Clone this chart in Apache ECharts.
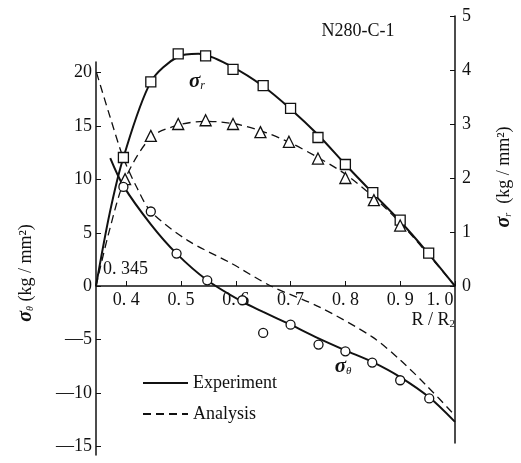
<!DOCTYPE html>
<html>
<head>
<meta charset="utf-8">
<script src="https://cdn.jsdelivr.net/npm/echarts@6/dist/echarts.min.js"></script>
<style>html,body{margin:0;padding:0;background:#fff}#c{width:521px;height:463px}</style>
</head>
<body>
<div id="c"></div>
<script>
// ---- data ----
const xTicks = [0.4, 0.5, 0.6, 0.7, 0.8, 0.9, 1.0];
const thetaTicks = [-15, -10, -5, 0, 5, 10, 15, 20];
const rTicks = [0, 1, 2, 3, 4, 5];

// sigma_r experiment (squares)
const rExpX = [0.395, 0.445, 0.495, 0.545, 0.595, 0.65, 0.70, 0.75, 0.80, 0.85, 0.90, 0.952];
const rExpY = [2.38, 3.78, 4.30, 4.26, 4.01, 3.71, 3.29, 2.75, 2.25, 1.73, 1.22, 0.61];
// sigma_r analysis (triangles)
const rAnaX = [0.398, 0.445, 0.495, 0.545, 0.595, 0.645, 0.697, 0.75, 0.80, 0.852, 0.90];
const rAnaY = [1.98, 2.78, 3.0, 3.07, 3.0, 2.85, 2.67, 2.36, 2.0, 1.59, 1.12];
// sigma_theta measured (circles)
const thExpX = [0.395, 0.445, 0.492, 0.548, 0.612, 0.65, 0.70, 0.751, 0.80, 0.849, 0.90, 0.953];
const thExpY = [9.3, 7.0, 3.06, 0.56, -1.31, -4.37, -3.6, -5.46, -6.09, -7.15, -8.8, -10.5];

// curves
const rExpCurveX = [0.345, 0.37, 0.395, 0.445, 0.495, 0.532, 0.595, 0.65, 0.70, 0.75, 0.80, 0.85, 0.90, 0.95, 1.0];
const rExpCurveY = [0, 1.35, 2.38, 3.78, 4.25, 4.3, 4.05, 3.7, 3.28, 2.8, 2.25, 1.72, 1.2, 0.62, 0];
const rAnaCurveX = [0.345, 0.37, 0.398, 0.445, 0.495, 0.545, 0.6, 0.65, 0.7, 0.75, 0.8, 0.85, 0.9, 0.95, 1.0];
const rAnaCurveY = [0, 1.05, 1.98, 2.75, 2.98, 3.05, 3.0, 2.86, 2.65, 2.38, 2.07, 1.66, 1.17, 0.6, 0];
const thExpCurveX = [0.371, 0.395, 0.445, 0.492, 0.548, 0.61, 0.65, 0.70, 0.75, 0.80, 0.85, 0.90, 0.953, 1.0];
const thExpCurveY = [12.0, 9.4, 5.8, 3.06, 0.56, -1.4, -2.4, -3.6, -4.85, -6.0, -7.1, -8.5, -10.4, -12.7];
const thAnaCurveX = [0.346, 0.371, 0.395, 0.42, 0.445, 0.512, 0.59, 0.665, 0.753, 0.849, 0.9, 0.95, 1.0];
const thAnaCurveY = [20.0, 15.8, 12.0, 9.2, 7.0, 4.3, 2.2, 0, -1.95, -4.74, -6.9, -9.4, -12.1];

const zip = (xs, ys) => xs.map((x, i) => [x, ys[i]]);

// ---- chart ----
const FONT = '"Liberation Serif", "DejaVu Serif", serif';
const INK = '#111';
const chart = echarts.init(document.getElementById('c'), null, {renderer: 'canvas'});

const fmtX = v => {
  const s = v.toFixed(1).replace('.', '. ');
  return Math.abs(v - 1.0) < 1e-9 ? '{e|' + s + '}' : s;
};
const fmtY = v => (v < 0 ? '\u2014' + Math.abs(v) : String(v));

const lineBase = (name, xi, yi, data, dashed, width) => ({
  name, type: 'line', xAxisIndex: xi, yAxisIndex: yi, data,
  smooth: 0.3, symbol: 'none', silent: true,
  lineStyle: {color: INK, width, type: dashed ? [8, 5] : 'solid'},
  itemStyle: {color: INK}, z: 3
});
const marks = (xi, yi, data, symbol, size) => ({
  type: 'scatter', xAxisIndex: xi, yAxisIndex: yi, data, symbol, symbolSize: size,
  itemStyle: {color: '#fff', borderColor: INK, borderWidth: 1.3, opacity: 1}, z: 5, silent: true
});

chart.setOption({
  backgroundColor: '#fff',
  animation: false,
  grid: [
    {left: 96, right: 66, top: 62, height: 393},
    {left: 96, right: 66, top: 16, height: 427},
    {left: 96, right: 66, top: 62, height: 224}
  ],
  xAxis: [
    {type: 'value', gridIndex: 0, min: 0.345, max: 1.0, show: false},
    {type: 'value', gridIndex: 1, min: 0.345, max: 1.0, show: false},
    {
      type: 'value', gridIndex: 2, min: 0.345, max: 1.0, position: 'bottom',
      axisLine: {onZero: false, lineStyle: {color: INK, width: 1.5}},
      axisTick: {inside: true, length: 5, customValues: xTicks, lineStyle: {color: INK}},
      axisLabel: {
        customValues: xTicks, margin: 5, color: INK, fontFamily: FONT, fontSize: 18,
        formatter: fmtX,
        rich: {e: {fontFamily: FONT, fontSize: 18, color: INK, padding: [0, 30, 0, 0]}}
      },
      splitLine: {show: false}
    }
  ],
  yAxis: [
    {
      type: 'value', gridIndex: 0, min: -15.8, max: 21, position: 'left',
      axisLine: {show: true, onZero: false, lineStyle: {color: INK, width: 1.5}},
      axisTick: {show: true, inside: true, length: 5, customValues: thetaTicks, lineStyle: {color: INK}},
      axisLabel: {customValues: thetaTicks, margin: 4, color: INK, fontFamily: FONT, fontSize: 18, formatter: fmtY},
      splitLine: {show: false}
    },
    {
      type: 'value', gridIndex: 1, min: -2.907, max: 5, position: 'right',
      axisLine: {show: true, onZero: false, lineStyle: {color: INK, width: 1.5}},
      axisTick: {show: true, inside: true, length: 5, customValues: rTicks, lineStyle: {color: INK}},
      axisLabel: {customValues: rTicks, margin: 7, color: INK, fontFamily: FONT, fontSize: 18},
      splitLine: {show: false}
    },
    {type: 'value', gridIndex: 2, min: 0, max: 21, show: false}
  ],
  legend: {
    data: ['Experiment', 'Analysis'],
    orient: 'vertical', left: 137, top: 369,
    itemWidth: 45, itemHeight: 14, itemGap: 13,
    itemStyle: {opacity: 0},
    textStyle: {color: INK, fontFamily: FONT, fontSize: 18},
    selectedMode: false
  },
  series: [
    lineBase('Experiment', 1, 1, zip(rExpCurveX, rExpCurveY), false, 2),
    lineBase('Analysis', 1, 1, zip(rAnaCurveX, rAnaCurveY), true, 1.3),
    lineBase('Experiment', 0, 0, zip(thExpCurveX, thExpCurveY), false, 2),
    lineBase('Analysis', 0, 0, zip(thAnaCurveX, thAnaCurveY), true, 1.3),
    marks(1, 1, zip(rExpX, rExpY), 'rect', 10),
    marks(1, 1, zip(rAnaX, rAnaY), 'triangle', 11),
    marks(0, 0, zip(thExpX, thExpY), 'circle', 9)
  ],
  graphic: [
    {type: 'text', x: 358, y: 31, style: {text: 'N280-C-1', fill: INK, font: '18px ' + FONT, align: 'center', verticalAlign: 'middle'}},
    {type: 'text', x: 103, y: 269, style: {text: '0. 345', fill: INK, font: '18px ' + FONT, align: 'left', verticalAlign: 'middle'}},
    {type: 'text', x: 455, y: 320, style: {
      text: 'R / R{s|2}', fill: INK, font: '18px ' + FONT, align: 'right', verticalAlign: 'middle',
      rich: {s: {fontFamily: FONT, fontSize: 11, fill: INK, padding: [8, 0, 0, 0]}}}},
    {type: 'text', x: 197, y: 82, style: {
      text: '{a|σ}{b|r}', align: 'center', verticalAlign: 'middle',
      rich: {a: {fontFamily: FONT, fontSize: 21, fontStyle: 'italic', fontWeight: 'bold', fill: INK},
             b: {fontFamily: FONT, fontSize: 12, fontStyle: 'italic', fill: INK, padding: [8, 0, 0, 0]}}}},
    {type: 'text', x: 343, y: 367, style: {
      text: '{a|σ}{b|θ}', align: 'center', verticalAlign: 'middle',
      rich: {a: {fontFamily: FONT, fontSize: 21, fontStyle: 'italic', fontWeight: 'bold', fill: INK},
             b: {fontFamily: FONT, fontSize: 11, fontStyle: 'italic', fill: INK, padding: [8, 0, 0, 0]}}}},
    {type: 'text', x: 26, y: 273, rotation: Math.PI / 2, style: {
      text: '{a|σ}{b|θ}{c| (kg / mm²)}', align: 'center', verticalAlign: 'middle',
      rich: {a: {fontFamily: FONT, fontSize: 20, fontStyle: 'italic', fontWeight: 'bold', fill: INK},
             b: {fontFamily: FONT, fontSize: 10, fontStyle: 'italic', fill: INK, padding: [8, 0, 0, 0]},
             c: {fontFamily: FONT, fontSize: 18, fill: INK}}}},
    {type: 'text', x: 504, y: 177, rotation: Math.PI / 2, style: {
      text: '{a|σ}{b|r}{c|  (kg / mm²)}', align: 'center', verticalAlign: 'middle',
      rich: {a: {fontFamily: FONT, fontSize: 20, fontStyle: 'italic', fontWeight: 'bold', fill: INK},
             b: {fontFamily: FONT, fontSize: 10, fontStyle: 'italic', fill: INK, padding: [8, 0, 0, 0]},
             c: {fontFamily: FONT, fontSize: 18, fill: INK}}}}
  ]
});
</script>
</body>
</html>
